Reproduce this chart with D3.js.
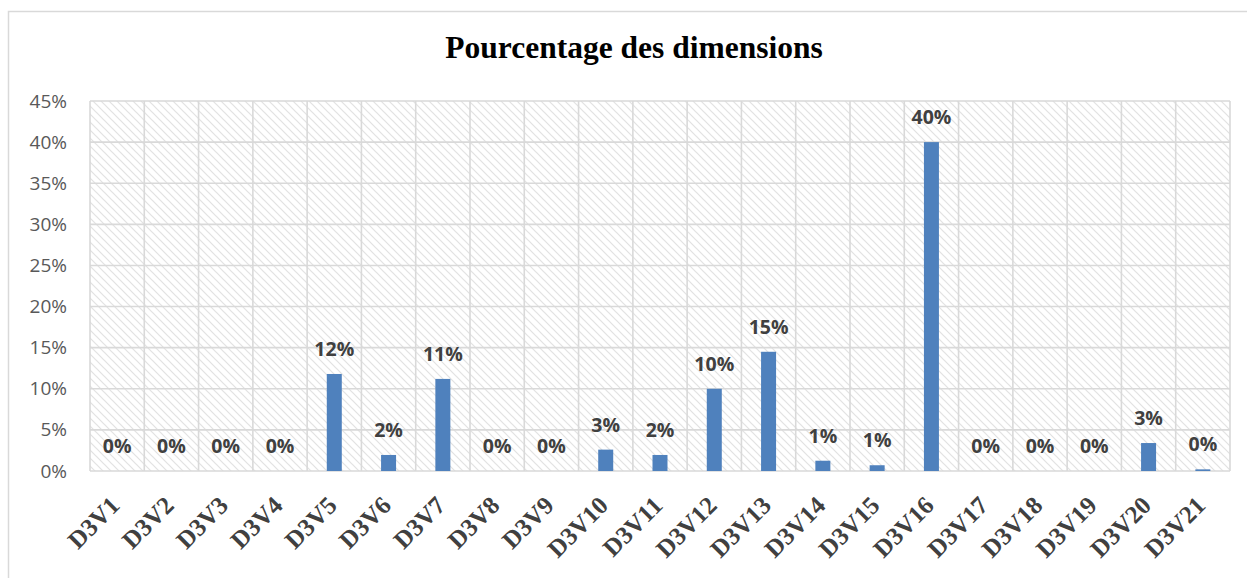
<!DOCTYPE html>
<html>
<head>
<meta charset="utf-8">
<script src="https://cdn.jsdelivr.net/npm/d3@7/dist/d3.min.js"></script>
<style>
  html, body { margin: 0; padding: 0; background: #fff; }
  svg { display: block; }
</style>
</head>
<body>
<div id="chart"></div>
<script>
// Share of each dimension
const categories = ["D3V1","D3V2","D3V3","D3V4","D3V5","D3V6","D3V7","D3V8","D3V9","D3V10","D3V11",
                    "D3V12","D3V13","D3V14","D3V15","D3V16","D3V17","D3V18","D3V19","D3V20","D3V21"];
const values = [0, 0, 0, 0, 11.8, 1.95, 11.2, 0, 0, 2.6, 1.95, 10.0, 14.5, 1.25, 0.7, 40.0, 0, 0, 0, 3.4, 0.2];
const yTicks = [0, 5, 10, 15, 20, 25, 30, 35, 40, 45];
const title = "Pourcentage des dimensions";

const W = 1247, H = 578;
const plot = { left: 90, right: 1230, top: 101, bottom: 471 };

const svg = d3.select("#chart").append("svg")
  .attr("width", W).attr("height", H);

// Diagonal hatch fill for the plot area
const defs = svg.append("defs");
const pat = defs.append("pattern")
  .attr("id", "hatch")
  .attr("patternUnits", "userSpaceOnUse")
  .attr("width", 8).attr("height", 8);
pat.append("rect").attr("width", 8).attr("height", 8).attr("fill", "#ffffff");
pat.append("path")
  .attr("d", "M0,0 L8,8 M-4,4 L4,12 M4,-4 L12,4")
  .attr("stroke", "#e2e2e2")
  .attr("stroke-width", 1.2);

// Outer chart frame
svg.append("rect")
  .attr("x", 8.5).attr("y", 11.5)
  .attr("width", 1260).attr("height", 600)
  .attr("fill", "none")
  .attr("stroke", "#d9d9d9")
  .attr("stroke-width", 1.5);

const x = d3.scaleBand()
  .domain(categories)
  .range([plot.left, plot.right])
  .paddingInner(0).paddingOuter(0);

const y = d3.scaleLinear()
  .domain([0, 45])
  .range([plot.bottom, plot.top]);

// Plot background
svg.append("rect")
  .attr("x", plot.left).attr("y", plot.top)
  .attr("width", plot.right - plot.left)
  .attr("height", plot.bottom - plot.top)
  .attr("fill", "url(#hatch)");

// Horizontal gridlines
svg.append("g")
  .selectAll("line")
  .data(yTicks)
  .join("line")
  .attr("x1", plot.left).attr("x2", plot.right)
  .attr("y1", d => y(d)).attr("y2", d => y(d))
  .attr("stroke", "#d9d9d9")
  .attr("stroke-width", 1.6);

// Vertical gridlines at category boundaries
const bounds = categories.map(c => x(c)).concat([plot.right]);
svg.append("g")
  .selectAll("line")
  .data(bounds)
  .join("line")
  .attr("x1", d => d).attr("x2", d => d)
  .attr("y1", plot.top).attr("y2", plot.bottom)
  .attr("stroke", "#d9d9d9")
  .attr("stroke-width", 1.6);

// Y axis labels
const yAxis = d3.axisLeft(y)
  .tickValues(yTicks)
  .tickFormat(d => d + "%")
  .tickSize(0)
  .tickPadding(23);
const gy = svg.append("g")
  .attr("transform", `translate(${plot.left},0)`)
  .call(yAxis);
gy.select(".domain").remove();
gy.selectAll("text")
  .attr("font-family", "'Open Sans', sans-serif")
  .attr("font-size", 19)
  .attr("fill", "#595959");

// Bars
const barW = 15;
svg.append("g")
  .selectAll("rect")
  .data(categories)
  .join("rect")
  .attr("x", (c) => x(c) + x.bandwidth() / 2 - barW / 2)
  .attr("width", barW)
  .attr("y", (c, i) => y(values[i]))
  .attr("height", (c, i) => y(0) - y(values[i]))
  .attr("fill", "#4f81bd");

// Value labels
svg.append("g")
  .selectAll("text")
  .data(categories)
  .join("text")
  .attr("x", c => x(c) + x.bandwidth() / 2)
  .attr("y", (c, i) => y(values[i]) - 18)
  .attr("text-anchor", "middle")
  .attr("font-family", "'Open Sans', sans-serif")
  .attr("font-weight", "bold")
  .attr("font-size", 19.5)
  .attr("fill", "#404040")
  .text((c, i) => Math.round(values[i]) + "%");

// X axis category labels, rotated
const xAxis = d3.axisBottom(x).tickSize(0).tickPadding(0);
const gx = svg.append("g")
  .attr("transform", `translate(0,${plot.bottom})`)
  .call(xAxis);
gx.select(".domain").remove();
gx.selectAll("text")
  .attr("font-family", "'Liberation Serif', serif")
  .attr("font-weight", "bold")
  .attr("font-size", 25)
  .attr("fill", "#404040")
  .attr("text-anchor", "end")
  .attr("dy", 0)
  .attr("y", 0)
  .attr("transform", "translate(4,36) rotate(-45)");

// Title
svg.append("text")
  .attr("x", 634).attr("y", 58)
  .attr("text-anchor", "middle")
  .attr("font-family", "'Liberation Serif', serif")
  .attr("font-weight", "bold")
  .attr("font-size", 31.5)
  .attr("fill", "#000")
  .text(title);
</script>
</body>
</html>
